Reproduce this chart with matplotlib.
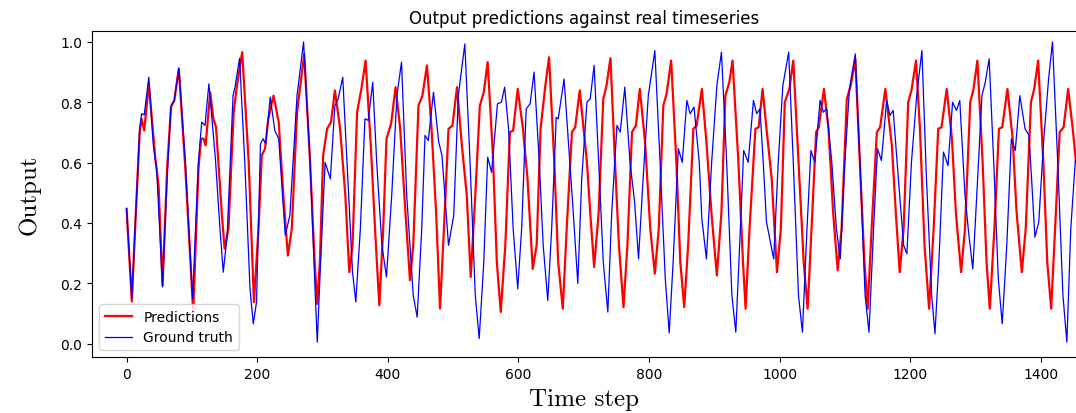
import numpy as np
import matplotlib
matplotlib.use('Agg')
import matplotlib.pyplot as plt

# predictions (red) - key points
t_pred = [0, 8, 13, 20, 23, 27, 34, 44, 49, 55, 62, 68, 73, 80, 90, 102, 110, 114, 118, 121,
          128, 133, 137, 146, 150, 156, 164, 169, 177, 187, 195, 202, 207, 212, 217, 225, 233, 240, 247, 253,
          261, 266, 272, 281, 288, 292, 296, 301, 307, 313, 319, 327, 335, 341, 346, 353, 360, 366, 374, 381,
          387, 393, 398, 405, 412, 419, 427, 434, 439, 447, 453, 460, 467, 474, 480, 486, 493, 499, 506, 513,
          521, 527, 534, 541, 547, 553, 561, 567, 573, 580, 587, 592, 599, 607, 614, 622, 628, 634, 641, 647,
          655, 661, 668, 674, 682, 687, 694, 705, 710, 716, 723, 730, 735, 741, 748, 754, 761, 767, 774, 780,
          786, 794, 802, 809, 815, 822, 827, 834, 842, 848, 854, 860, 868, 873, 881, 888, 896, 904, 911, 917,
          923, 928, 937, 944, 948, 954, 963, 968, 974, 980, 988, 996, 1002, 1008, 1015, 1021, 1029, 1037, 1043, 1049,
          1056, 1060, 1068, 1075, 1082, 1089, 1095, 1103, 1109, 1116, 1123, 1130, 1135, 1141, 1149, 1154, 1162, 1172, 1178, 1184,
          1190, 1197, 1202, 1209, 1215, 1222, 1229, 1236, 1243, 1248, 1256, 1264, 1270, 1278, 1284, 1292, 1297, 1303, 1311, 1317,
          1322, 1329, 1336, 1341, 1349, 1357, 1363, 1371, 1377, 1385, 1390, 1396, 1404, 1410, 1416, 1422, 1429, 1435, 1442, 1449,
          1454]
v_pred = [0.447, 0.14, 0.38, 0.70, 0.745, 0.706, 0.861, 0.613, 0.524, 0.193, 0.579, 0.784, 0.806, 0.911, 0.579, 0.105, 0.579, 0.679, 0.679, 0.657,
          0.833, 0.745, 0.717, 0.425, 0.315, 0.381, 0.767, 0.855, 0.966, 0.601, 0.138, 0.381, 0.624, 0.646, 0.745, 0.822, 0.734, 0.491, 0.292, 0.381,
          0.767, 0.855, 0.96, 0.601, 0.27, 0.132, 0.27, 0.624, 0.712, 0.734, 0.839, 0.712, 0.491, 0.237, 0.326, 0.767, 0.85, 0.938, 0.657, 0.359,
          0.127, 0.381, 0.679, 0.728, 0.85, 0.712, 0.436, 0.21, 0.326, 0.789, 0.822, 0.922, 0.712, 0.436, 0.116, 0.381, 0.712, 0.723, 0.85, 0.668,
          0.491, 0.221, 0.491, 0.789, 0.833, 0.933, 0.624, 0.27, 0.105, 0.326, 0.701, 0.706, 0.844, 0.712, 0.546, 0.248, 0.326, 0.712, 0.85, 0.949,
          0.601, 0.27, 0.116, 0.381, 0.701, 0.717, 0.839, 0.601, 0.436, 0.254, 0.436, 0.811, 0.855, 0.946, 0.601, 0.326, 0.121, 0.326, 0.701, 0.723,
          0.844, 0.668, 0.381, 0.232, 0.381, 0.789, 0.828, 0.938, 0.601, 0.27, 0.121, 0.326, 0.712, 0.723, 0.844, 0.668, 0.425, 0.226, 0.436, 0.822,
          0.866, 0.938, 0.601, 0.27, 0.116, 0.381, 0.712, 0.717, 0.844, 0.712, 0.546, 0.237, 0.381, 0.80, 0.844, 0.938, 0.601, 0.27, 0.116, 0.381,
          0.701, 0.717, 0.844, 0.712, 0.436, 0.243, 0.381, 0.811, 0.855, 0.944, 0.601, 0.27, 0.116, 0.381, 0.701, 0.717, 0.844, 0.657, 0.436, 0.237,
          0.381, 0.80, 0.839, 0.938, 0.712, 0.326, 0.116, 0.381, 0.712, 0.717, 0.844, 0.679, 0.436, 0.237, 0.381, 0.80, 0.844, 0.938, 0.601, 0.27,
          0.116, 0.381, 0.712, 0.717, 0.844, 0.679, 0.436, 0.237, 0.381, 0.80, 0.844, 0.938, 0.601, 0.27, 0.116, 0.381, 0.701, 0.717, 0.844, 0.712,
          0.601]

# ground truth (blue)
t_true = [0, 8, 13, 20, 23, 27, 34, 41, 46, 55, 62, 68, 73, 80, 90, 101, 110, 115, 120, 126,
          136, 143, 148, 154, 163, 166, 173, 181, 189, 194, 199, 205, 209, 213, 220, 227, 233, 243, 250, 261,
          271, 281, 289, 292, 296, 304, 312, 319, 324, 331, 340, 346, 351, 358, 365, 370, 377, 383, 391, 398,
          406, 414, 421, 429, 439, 445, 452, 457, 462, 470, 478, 483, 493, 501, 508, 518, 526, 534, 540, 547,
          553, 559, 568, 574, 579, 585, 592, 599, 605, 612, 618, 624, 632, 638, 645, 651, 658, 661, 670, 677,
          684, 691, 697, 705, 710, 716, 723, 730, 737, 743, 751, 756, 763, 771, 778, 784, 791, 799, 809, 817,
          825, 831, 837, 845, 851, 858, 863, 869, 877, 881, 888, 896, 904, 911, 919, 927, 933, 940, 945, 952,
          960, 965, 970, 975, 980, 991, 998, 1005, 1014, 1021, 1029, 1035, 1042, 1048, 1054, 1062, 1067, 1072, 1080, 1087,
          1093, 1100, 1107, 1116, 1123, 1131, 1137, 1144, 1150, 1156, 1164, 1169, 1174, 1182, 1190, 1195, 1202, 1210, 1218, 1225,
          1233, 1238, 1244, 1251, 1258, 1265, 1271, 1276, 1284, 1290, 1296, 1302, 1310, 1315, 1321, 1328, 1335, 1341, 1348, 1355,
          1361, 1368, 1376, 1382, 1386, 1391, 1397, 1404, 1412, 1418, 1426, 1434, 1440, 1446, 1453]
v_true = [0.447, 0.149, 0.381, 0.712, 0.762, 0.758, 0.883, 0.657, 0.579, 0.188, 0.546, 0.789, 0.806, 0.913, 0.601, 0.149, 0.601, 0.734, 0.723, 0.861,
          0.613, 0.381, 0.237, 0.359, 0.822, 0.85, 0.946, 0.601, 0.182, 0.066, 0.138, 0.662, 0.679, 0.662, 0.817, 0.706, 0.679, 0.359, 0.425, 0.822,
          1.0, 0.601, 0.16, 0.005, 0.215, 0.601, 0.546, 0.789, 0.811, 0.883, 0.491, 0.237, 0.138, 0.381, 0.745, 0.74, 0.866, 0.601, 0.326, 0.221,
          0.491, 0.822, 0.933, 0.491, 0.16, 0.088, 0.381, 0.69, 0.673, 0.833, 0.668, 0.624, 0.326, 0.425, 0.822, 0.993, 0.601, 0.16, 0.017, 0.27,
          0.618, 0.568, 0.795, 0.80, 0.85, 0.712, 0.381, 0.182, 0.381, 0.778, 0.795, 0.90, 0.601, 0.326, 0.143, 0.381, 0.75, 0.745, 0.877, 0.657,
          0.436, 0.20, 0.546, 0.80, 0.811, 0.922, 0.601, 0.27, 0.105, 0.436, 0.723, 0.701, 0.85, 0.601, 0.469, 0.281, 0.546, 0.822, 0.971, 0.601,
          0.215, 0.036, 0.27, 0.646, 0.601, 0.806, 0.762, 0.784, 0.601, 0.414, 0.281, 0.601, 0.855, 0.966, 0.601, 0.16, 0.038, 0.381, 0.64, 0.601,
          0.806, 0.762, 0.778, 0.601, 0.403, 0.281, 0.601, 0.855, 0.966, 0.601, 0.16, 0.038, 0.381, 0.64, 0.601, 0.806, 0.767, 0.778, 0.601, 0.381,
          0.281, 0.601, 0.844, 0.96, 0.601, 0.16, 0.038, 0.381, 0.646, 0.607, 0.806, 0.756, 0.773, 0.546, 0.326, 0.298, 0.601, 0.822, 0.971, 0.546,
          0.16, 0.033, 0.27, 0.635, 0.59, 0.80, 0.773, 0.806, 0.491, 0.359, 0.248, 0.491, 0.822, 0.866, 0.944, 0.601, 0.215, 0.066, 0.326, 0.679,
          0.64, 0.822, 0.712, 0.69, 0.546, 0.353, 0.403, 0.657, 0.877, 1.0, 0.601, 0.16, 0.005, 0.381, 0.607]

fig = plt.figure(figsize=(10.76, 4.14), dpi=100)
ax = fig.add_axes([92/1076, 1-358/414, 1-92/1076, 326/414])
ax.plot(t_pred, v_pred, color='red', lw=1.6, label='Predictions')
ax.plot(t_true, v_true, color='blue', lw=0.9, label='Ground truth')
ax.set_xlim(-53, 1454)
ax.set_ylim(-0.044, 1.036)
ax.spines['right'].set_visible(False)
ax.set_title('Output predictions against real timeseries')
ax.set_xlabel('Time step', fontfamily='cmr10', fontsize=18, labelpad=5)
ax.set_ylabel('Output', fontfamily='cmr10', fontsize=18, labelpad=14)
ax.legend(loc='lower left')
fig.savefig('out.png', dpi=100)
